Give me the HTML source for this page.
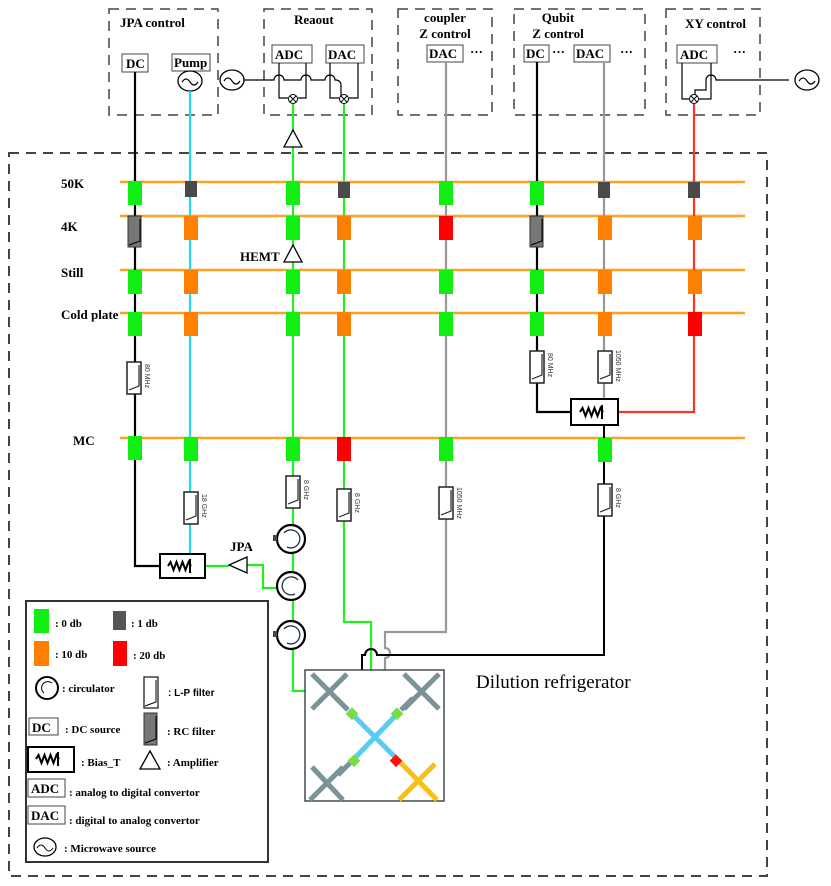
<!DOCTYPE html>
<html><head><meta charset="utf-8"><style>
html,body{margin:0;padding:0;background:#fff;}
svg{display:block;}
text{font-family:"Liberation Serif",serif;font-weight:bold;}
.s{font-family:"Liberation Sans",sans-serif;font-weight:normal;}
</style></head><body>
<svg width="831" height="886" viewBox="0 0 831 886" xmlns="http://www.w3.org/2000/svg">
<defs>
<g id="lp"><rect x="-7" y="0" width="14" height="32" fill="#fff" stroke="#222" stroke-width="1.5"/><path d="M-5 28 L5 24 L5 3" fill="none" stroke="#222" stroke-width="1.2"/></g>
<g id="bt"><path d="M-12 0 l2.5 -4 l3 8 l3 -8 l3 8 l3 -8 l3 8 l3 -8 l2.5 4 M10 -7 v14" fill="none" stroke="#000" stroke-width="2"/></g>
</defs>
<g fill="none" stroke="#444" stroke-width="1.5" stroke-dasharray="10,7">
<rect x="109" y="9" width="109" height="106"/>
<rect x="264" y="9" width="108" height="106"/>
<rect x="398" y="9" width="94" height="106"/>
<rect x="514" y="9" width="131" height="106"/>
<rect x="666" y="9" width="94" height="106"/>
<rect x="9" y="153" width="758" height="723" stroke-width="2"/>
</g>
<g stroke="#ffa020" stroke-width="2.5">
<line x1="120" y1="182" x2="745" y2="182"/>
<line x1="120" y1="216" x2="745" y2="216"/>
<line x1="120" y1="270" x2="745" y2="270"/>
<line x1="120" y1="313" x2="745" y2="313"/>
<line x1="120" y1="438" x2="745" y2="438"/>
</g>
<g font-size="13">
<text x="61" y="188">50K</text><text x="61" y="231">4K</text><text x="61" y="277">Still</text><text x="61" y="319">Cold plate</text><text x="73" y="445">MC</text>
</g>
<g font-size="13">
<text x="120" y="27">JPA  control</text><text x="294" y="24">Reaout</text>
<text x="445" y="22" text-anchor="middle">coupler</text><text x="445" y="38" text-anchor="middle">Z control</text>
<text x="558" y="22" text-anchor="middle">Qubit</text><text x="558" y="38" text-anchor="middle">Z control</text>
<text x="685" y="28">XY control</text>
</g>
<g font-size="13" fill="#000">
<rect x="122" y="54" width="26" height="18" fill="#fff" stroke="#444"/><text x="126" y="68">DC</text>
<rect x="172" y="54" width="38" height="17" fill="#fff" stroke="#444"/><text x="174" y="67">Pump</text>
<rect x="272" y="45" width="40" height="18" fill="#fff" stroke="#444"/><text x="275" y="59">ADC</text>
<rect x="326" y="45" width="38" height="18" fill="#fff" stroke="#444"/><text x="328" y="59">DAC</text>
<rect x="427" y="45" width="36" height="17" fill="#fff" stroke="#444"/><text x="429" y="58">DAC</text>
<rect x="524" y="45" width="25" height="17" fill="#fff" stroke="#444"/><text x="526" y="58">DC</text>
<rect x="574" y="45" width="36" height="17" fill="#fff" stroke="#444"/><text x="576" y="58">DAC</text>
<rect x="677" y="45" width="40" height="18" fill="#fff" stroke="#444"/><text x="680" y="59">ADC</text>
<text x="470" y="56">···</text><text x="552" y="56">···</text><text x="620" y="56">···</text><text x="733" y="56">···</text>
</g>
<g fill="#fff" stroke="#000" stroke-width="1.3">
<ellipse cx="190" cy="81" rx="12" ry="10"/><ellipse cx="232" cy="80" rx="12" ry="10"/><ellipse cx="807" cy="80" rx="12" ry="10"/>
</g>
<g fill="none" stroke="#000" stroke-width="1.2">
<path d="M182 82 q4 -6 8 0 q4 6 8 0"/><path d="M224 81 q4 -6 8 0 q4 6 8 0"/><path d="M799 81 q4 -6 8 0 q4 6 8 0"/>
<path d="M244 80 H274 a5 5 0 0 1 10 0 H301 a5 5 0 0 1 10 0 H325 a5 5 0 0 1 10 0 H336 a5 5 0 0 1 5 5 V98 H344"/>
<path d="M279 63 V98 H288 M306 63 V98 H298"/>
<path d="M330 63 V98 H339 M358 63 V98 H349"/>
<path d="M682 63 V99 H689 M711 63 V99 H699"/>
<path d="M789 80 H716 a5 5 0 0 0 -10 0 V90 H695 V95"/>
</g>
<g fill="#fff" stroke="#000" stroke-width="1">
<circle cx="293" cy="99" r="4.5"/><circle cx="344" cy="99" r="4.5"/><circle cx="694" cy="99" r="4.5"/>
</g>
<g stroke="#000" stroke-width="1"><path d="M290 96 l6 6 M296 96 l-6 6 M341 96 l6 6 M347 96 l-6 6 M691 96 l6 6 M697 96 l-6 6"/></g>
<g fill="none" stroke-width="2.2">
<path d="M135 72 V566 H160" stroke="#000"/>
<path d="M190 91 V554" stroke="#22dde8"/>
<path d="M293 104 V691 H305" stroke="#22ee22"/>
<path d="M344 104 V622 H371 V670" stroke="#22ee22"/>
<path d="M205 566 H229 M247 565 H263 V588 H277" stroke="#22ee22"/>
<path d="M446 62 V632 H385 V648 a5 5 0 0 1 0 10 V670" stroke="#999"/>
<path d="M537 62 V412 H571" stroke="#000"/>
<path d="M604 62 V399" stroke="#999"/>
<path d="M604 426 V655 H377 a6 6 0 0 0 -12 0 H362 V670" stroke="#000" stroke-width="2"/>
<path d="M694 104 V412 H618" stroke="#ff3322"/>
</g>
<g fill="#fff" stroke="#000" stroke-width="1.3">
<path d="M293 130 L284 147 H302 Z"/>
<path d="M293 245 L284 262 H302 Z"/>
<path d="M229 565 L247 557 V573 Z"/>
</g>
<text x="240" y="261" font-size="13">HEMT</text>
<text x="230" y="551" font-size="13">JPA</text>
<g>
<rect x="128" y="181" width="14" height="24" fill="#11ee11"/>
<rect x="185" y="181" width="12" height="16" fill="#4a4a4a"/>
<rect x="286" y="181" width="14" height="24" fill="#11ee11"/>
<rect x="338" y="182" width="12" height="16" fill="#4a4a4a"/>
<rect x="439" y="181" width="14" height="24" fill="#11ee11"/>
<rect x="530" y="181" width="14" height="24" fill="#11ee11"/>
<rect x="598" y="182" width="12" height="16" fill="#4a4a4a"/>
<rect x="688" y="182" width="12" height="16" fill="#4a4a4a"/>

<rect x="128" y="216" width="13" height="31" fill="#777" stroke="#333"/><path d="M129 245 l11 -4 V219" stroke="#000" fill="none"/>
<rect x="184" y="216" width="14" height="24" fill="#ff8000"/>
<rect x="286" y="216" width="14" height="24" fill="#11ee11"/>
<rect x="337" y="216" width="14" height="24" fill="#ff8000"/>
<rect x="439" y="216" width="14" height="24" fill="#ff0000"/>
<rect x="530" y="216" width="13" height="31" fill="#777" stroke="#333"/><path d="M531 245 l11 -4 V219" stroke="#000" fill="none"/>
<rect x="598" y="216" width="14" height="24" fill="#ff8000"/>
<rect x="688" y="216" width="14" height="24" fill="#ff8000"/>

<rect x="128" y="270" width="14" height="24" fill="#11ee11"/>
<rect x="184" y="270" width="14" height="24" fill="#ff8000"/>
<rect x="286" y="270" width="14" height="24" fill="#11ee11"/>
<rect x="337" y="270" width="14" height="24" fill="#ff8000"/>
<rect x="439" y="270" width="14" height="24" fill="#11ee11"/>
<rect x="530" y="270" width="14" height="24" fill="#11ee11"/>
<rect x="598" y="270" width="14" height="24" fill="#ff8000"/>
<rect x="688" y="270" width="14" height="24" fill="#ff8000"/>

<rect x="128" y="312" width="14" height="24" fill="#11ee11"/>
<rect x="184" y="312" width="14" height="24" fill="#ff8000"/>
<rect x="286" y="312" width="14" height="24" fill="#11ee11"/>
<rect x="337" y="312" width="14" height="24" fill="#ff8000"/>
<rect x="439" y="312" width="14" height="24" fill="#11ee11"/>
<rect x="530" y="312" width="14" height="24" fill="#11ee11"/>
<rect x="598" y="312" width="14" height="24" fill="#ff8000"/>
<rect x="688" y="312" width="14" height="24" fill="#ff0000"/>

<rect x="128" y="436" width="14" height="24" fill="#11ee11"/>
<rect x="184" y="437" width="14" height="24" fill="#11ee11"/>
<rect x="286" y="437" width="14" height="24" fill="#11ee11"/>
<rect x="337" y="437" width="14" height="24" fill="#ff0000"/>
<rect x="439" y="437" width="14" height="24" fill="#11ee11"/>
<rect x="598" y="438" width="14" height="24" fill="#11ee11"/>
</g>
<use href="#lp" x="134" y="362"/><use href="#lp" x="191" y="492"/><use href="#lp" x="293" y="476"/>
<use href="#lp" x="344" y="489"/><use href="#lp" x="446" y="487"/><use href="#lp" x="537" y="351"/>
<use href="#lp" x="605" y="351"/><use href="#lp" x="605" y="484"/>
<g font-size="7" fill="#333">
<text class="s" transform="translate(145,364) rotate(90)">80 MHz</text>
<text class="s" transform="translate(202,494) rotate(90)">18 GHz</text>
<text class="s" transform="translate(304,480) rotate(90)">8 GHz</text>
<text class="s" transform="translate(355,493) rotate(90)">8 GHz</text>
<text class="s" transform="translate(457,487) rotate(90)">1050 MHz</text>
<text class="s" transform="translate(548,353) rotate(90)">80 MHz</text>
<text class="s" transform="translate(616,350) rotate(90)">1050 MHz</text>
<text class="s" transform="translate(616,488) rotate(90)">8 GHz</text>
</g>
<rect x="160" y="554" width="45" height="24" fill="#fff" stroke="#000" stroke-width="2"/><use href="#bt" x="180" y="566"/>
<rect x="571" y="399" width="47" height="26" fill="#fff" stroke="#000" stroke-width="2"/><use href="#bt" x="592" y="412"/>
<g fill="#fff" stroke="#000" stroke-width="2.2">
<circle cx="291" cy="539" r="14"/><circle cx="291" cy="586" r="14"/><circle cx="291" cy="635" r="14"/>
</g>
<g fill="none" stroke="#234" stroke-width="1.3">
<path d="M284 533 a9 9 0 1 1 3 14"/><path d="M298 580 a9 9 0 1 0 -3 14"/><path d="M284 629 a9 9 0 1 1 3 14"/>
</g>
<rect x="273" y="535" width="4" height="6" fill="#444"/><rect x="273" y="631" width="4" height="6" fill="#444"/>
<rect x="305" y="670" width="139" height="131" fill="#fff" stroke="#233" stroke-width="1.3"/>
<g stroke-width="5" fill="none">
<path d="M312 674 L347 709 M347 674 L312 709" stroke="#7a9396"/>
<path d="M404 674 L439 709 M439 674 L404 709" stroke="#7a9396"/>
<path d="M310 800 L343 767 M312 767 L343 800" stroke="#7a9396"/>
<path d="M336 698 L348 710 M413 698 L401 710 M338 775 L350 763" stroke="#7a9396"/>
<path d="M350 712 L400 762 M399 712 L352 761" stroke="#55ccf4"/>
<path d="M400 762 L437 800 M435 764 L399 800" stroke="#f8c010"/>
</g>
<g>
<rect x="348" y="709" width="9" height="9" fill="#77dd44" transform="rotate(45 352 713)"/>
<rect x="393" y="709" width="9" height="9" fill="#77dd44" transform="rotate(45 397 713)"/>
<rect x="350" y="756" width="9" height="9" fill="#77dd44" transform="rotate(45 354 760)"/>
<rect x="392" y="756" width="9" height="9" fill="#ff1111" transform="rotate(45 396 760)"/>
</g>
<text x="476" y="688" font-size="19" style="font-weight:normal">Dilution refrigerator</text>
<rect x="26" y="601" width="242" height="261" fill="#fff" stroke="#333" stroke-width="2"/>
<g font-size="11">
<rect x="34" y="609" width="15" height="24" fill="#11ee11"/><text x="55" y="627">: 0 db</text>
<rect x="113" y="611" width="13" height="19" fill="#555"/><text x="131" y="627">: 1 db</text>
<rect x="34" y="641" width="15" height="25" fill="#ff8000"/><text x="55" y="658">: 10 db</text>
<rect x="113" y="641" width="14" height="25" fill="#ff0000"/><text x="133" y="659">: 20 db</text>
<circle cx="47" cy="688" r="11" fill="none" stroke="#000" stroke-width="2"/><path d="M52 683 a6 6 0 1 0 -8 10" fill="none" stroke="#000"/>
<text x="62" y="692">: circulator</text>
<rect x="144" y="677" width="14" height="31" fill="#fff" stroke="#222" stroke-width="1.3"/><path d="M145 706 l11 -4 V680" fill="none" stroke="#000"/>
<text x="168" y="696" style="font-weight:bold;font-family:'Liberation Sans',sans-serif" font-size="10">: L-P filter</text>
<rect x="29" y="718" width="29" height="17" fill="#fff" stroke="#444"/><text x="32" y="732" font-size="13">DC</text>
<text x="65" y="733">: DC source</text>
<rect x="144" y="713" width="13" height="32" fill="#777" stroke="#333"/><path d="M145 743 l11 -4 V716" fill="none" stroke="#000"/>
<text x="167" y="735">: RC filter</text>
<rect x="28" y="747" width="46" height="25" fill="#fff" stroke="#000" stroke-width="2"/><use href="#bt" x="48" y="759"/>
<text x="81" y="766">: Bias_T</text>
<path d="M150 751 L140 769 H160 Z" fill="#fff" stroke="#000" stroke-width="1.3"/>
<text x="167" y="766">: Amplifier</text>
<rect x="28" y="779" width="37" height="18" fill="#fff" stroke="#444"/><text x="31" y="793" font-size="13">ADC</text>
<text x="69" y="796">: analog to digital convertor</text>
<rect x="28" y="806" width="37" height="18" fill="#fff" stroke="#444"/><text x="31" y="820" font-size="13">DAC</text>
<text x="69" y="824">: digital to analog convertor</text>
<ellipse cx="45" cy="847" rx="11" ry="9" fill="none" stroke="#000" stroke-width="1.3"/><path d="M37 848 q4 -6 8 0 q4 6 8 0" fill="none" stroke="#000"/>
<text x="64" y="852">: Microwave source</text>
</g>
</svg>
</body></html>
